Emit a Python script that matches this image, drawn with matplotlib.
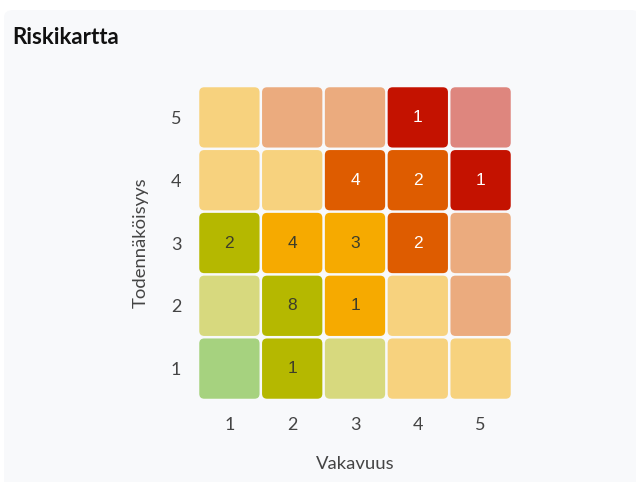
import numpy as np
import matplotlib
matplotlib.use("Agg")
import matplotlib.pyplot as plt
from matplotlib.patches import FancyBboxPatch

plt.rcParams["font.family"] = ["Lato", "DejaVu Sans"]

# severity (x) and likelihood (y) scale
SEVERITY = [1, 2, 3, 4, 5]
LIKELIHOOD = [1, 2, 3, 4, 5]

# number of risks per cell, rows = likelihood 1..5, cols = severity 1..5
COUNTS = [
    [0, 1, 0, 0, 0],
    [0, 8, 1, 0, 0],
    [2, 4, 3, 2, 0],
    [0, 0, 4, 2, 1],
    [0, 0, 0, 1, 0],
]

# risk level per cell (1 = low ... 5 = critical)
LEVELS = [
    [1, 2, 2, 3, 3],
    [2, 2, 3, 3, 4],
    [2, 3, 3, 4, 4],
    [3, 3, 4, 4, 5],
    [3, 4, 4, 5, 5],
]

LEVEL_COLORS = {1: "#54ab03", 2: "#b5b800", 3: "#f6aa00", 4: "#de5c00", 5: "#c41200"}
BG = "#f8f9fb"


def blend(hex_color, alpha, bg=BG):
    c = np.array(matplotlib.colors.to_rgb(hex_color))
    b = np.array(matplotlib.colors.to_rgb(bg))
    return tuple(alpha * c + (1 - alpha) * b)


fig = plt.figure(figsize=(6.36, 4.82), dpi=100)
fig.patch.set_facecolor("white")

# card background
card = FancyBboxPatch((4 / 636, -0.05), 1.0, 1 - 10 / 482 + 0.05,
                      boxstyle="round,pad=0,rounding_size=0.015",
                      transform=fig.transFigure, facecolor=BG,
                      edgecolor="none", zorder=-10)
fig.patches.append(card)

fig.text(12 / 636, 1 - 38 / 482, "Riskikartta", fontsize=16,
         fontweight="bold", color="#111111", va="center", ha="left")

ax = fig.add_axes([198 / 636, 1 - 400 / 482, 314 / 636, 314 / 482])
ax.set_facecolor(BG)
ax.set_xlim(0.5, 5.5)
ax.set_ylim(0.5, 5.5)

size = 0.96
for i, lik in enumerate(LIKELIHOOD):
    for j, sev in enumerate(SEVERITY):
        n = COUNTS[i][j]
        lvl = LEVELS[i][j]
        col = LEVEL_COLORS[lvl] if n > 0 else blend(LEVEL_COLORS[lvl], 0.5)
        box = FancyBboxPatch((sev - size / 2, lik - size / 2), size, size,
                             boxstyle="round,pad=0,rounding_size=0.08",
                             facecolor=col, edgecolor="none", zorder=2)
        ax.add_patch(box)
        if n > 0:
            tc = "white" if lvl >= 4 else "#3d3d2a"
            ax.text(sev, lik, str(n), ha="center", va="center", fontsize=12.5,
                    color=tc, family=["Liberation Sans", "DejaVu Sans"], zorder=3)

for s in ax.spines.values():
    s.set_visible(False)
ax.set_xticks(SEVERITY)
ax.set_yticks(LIKELIHOOD)
ax.tick_params(length=0, labelsize=13, labelcolor="#444444")
ax.tick_params(axis="x", pad=12.5)
ax.tick_params(axis="y", pad=12)
ax.set_xlabel("Vakavuus", fontsize=13.3, color="#444444", labelpad=16)
ax.set_ylabel("Todennäköisyys", fontsize=13.3, color="#444444", labelpad=16)

plt.savefig("out.png", dpi=100)
